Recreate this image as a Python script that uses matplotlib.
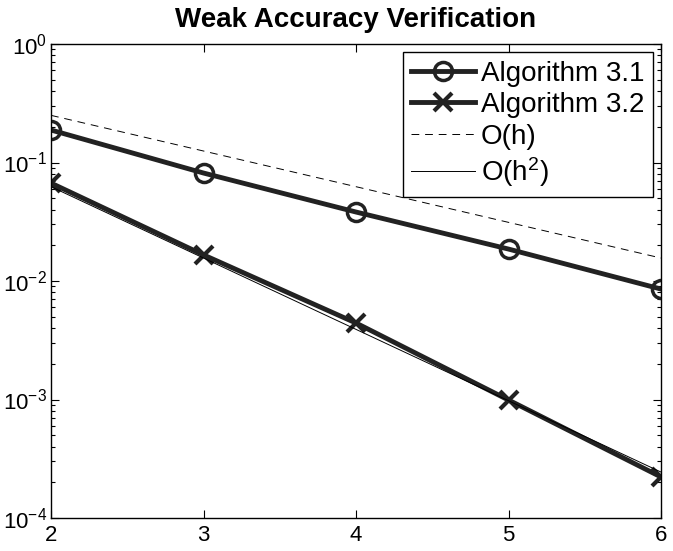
import matplotlib
matplotlib.use('Agg')
import matplotlib.pyplot as plt
from matplotlib.ticker import LogLocator, FixedLocator

plt.rcParams['font.family'] = ['Liberation Sans', 'DejaVu Sans']
plt.rcParams['mathtext.fontset'] = 'custom'
plt.rcParams['mathtext.rm'] = 'Liberation Sans'
plt.rcParams['mathtext.it'] = 'Liberation Sans'

# data
levels = [2, 3, 4, 5, 6]
alg31 = [0.188, 0.0815, 0.0382, 0.0186, 0.00855]
alg32 = [0.067, 0.0166, 0.00442, 0.00099, 0.000222]
order_h = [0.25, 0.125, 0.0625, 0.03125, 0.015625]
order_h2 = [0.0625, 0.015625, 0.00390625, 0.0009765625, 0.000244140625]

fig = plt.figure(figsize=(6.73, 5.51), dpi=100)
ax = fig.add_axes([51 / 673, 33 / 551, 610 / 673, 474 / 551])

ax.semilogy(levels, alg31, '-o', color='#222222', lw=3.5, ms=13,
            mfc='none', mew=2.5, label='Algorithm 3.1')
ax.semilogy(levels, alg32, '-x', color='#222222', lw=3.5, ms=13,
            mew=3, label='Algorithm 3.2')
ax.semilogy(levels, order_h, '--', color='black', lw=0.7, dashes=(8, 6),
            label='O(h)')
ax.semilogy(levels, order_h2, '-', color='black', lw=0.7,
            label='O(h$^2$)')

ax.set_xlim(2, 6)
ax.set_ylim(1e-4, 1)
ax.xaxis.set_major_locator(FixedLocator(levels))
ax.yaxis.set_major_locator(LogLocator(base=10, numticks=10))
ax.yaxis.set_minor_locator(LogLocator(base=10, subs=range(2, 10), numticks=20))
ax.tick_params(which='both', direction='in', top=True, right=True,
               labelsize=16, width=0.8)
ax.tick_params(which='major', length=6)
ax.tick_params(which='minor', length=3)
ax.tick_params(axis='x', pad=5)
ax.tick_params(axis='y', pad=3)
for s in ax.spines.values():
    s.set_linewidth(1.0)

ax.set_title('Weak Accuracy Verification', fontsize=20, fontweight='bold',
             pad=12)

leg = ax.legend(loc='upper right', fontsize=20, handlelength=2.3,
                borderaxespad=0.3, fancybox=False, framealpha=1,
                edgecolor='black', labelspacing=0.2, handletextpad=0.2,
                borderpad=0.3)
leg.get_frame().set_linewidth(1.0)

fig.savefig('out.png', dpi=100)
